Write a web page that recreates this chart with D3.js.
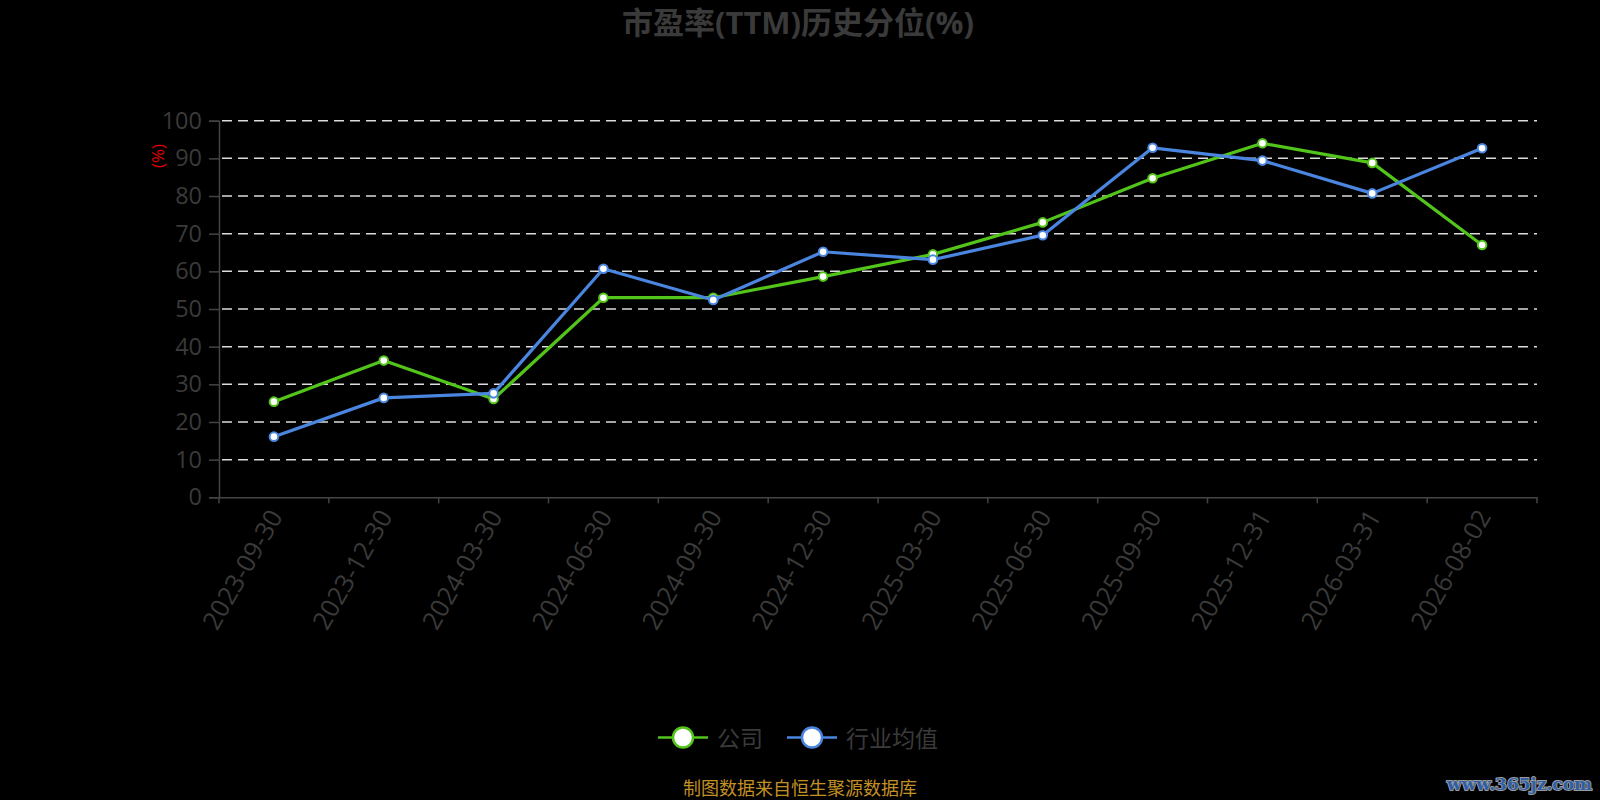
<!DOCTYPE html>
<html><head><meta charset="utf-8">
<script src="https://cdn.jsdelivr.net/npm/d3@7/dist/d3.min.js"></script>
<style>
html,body{margin:0;padding:0;background:#000;}
svg{display:block;font-family:"Open Sans","Noto Sans CJK SC",sans-serif;}
</style></head>
<body>
<svg id="chart" width="1600" height="800"></svg>
<script>
const titleText = "市盈率(TTM)历史分位(%)";
const categories = ["2023-09-30","2023-12-30","2024-03-30","2024-06-30","2024-09-30","2024-12-30","2025-03-30","2025-06-30","2025-09-30","2025-12-31","2026-03-31","2026-08-02"];
const companyValues = [25.4, 36.3, 26.1, 53.0, 53.0, 58.6, 64.5, 73.0, 84.7, 94.0, 88.8, 67.0];
const industryValues = [16.1, 26.4, 27.6, 60.7, 52.4, 65.2, 63.1, 69.6, 92.8, 89.4, 80.7, 92.7];
const yTicks = [0,10,20,30,40,50,60,70,80,90,100];
const seriesNames = ["公司","行业均值"];
const seriesColors = ["#52c41a","#4a86df"];
const footerText = "制图数据来自恒生聚源数据库";
const watermarkText = "www.365jz.com";

(function(){
const svg = d3.select("#chart");
const pLeft = 219, pRight = 1537, pTop = 120.7, pBottom = 497.3;
const x = d3.scaleBand().domain(categories).range([pLeft, pRight]);
const y = d3.scaleLinear().domain([0,100]).range([pBottom, pTop]);
const axisColor = "#444";
const labelColor = "#3a3a3a";

svg.append("text").attr("x", 798).attr("y", 34).attr("text-anchor","middle")
  .attr("font-size", 31).attr("font-weight","bold").attr("fill", labelColor)
  .text(titleText);

svg.append("g").selectAll("line").data(yTicks.filter(d=>d>0)).join("line")
  .attr("x1", pLeft).attr("x2", pRight)
  .attr("y1", d=>y(d)).attr("y2", d=>y(d))
  .attr("stroke", "#dcdcdc").attr("stroke-width", 1.5).attr("stroke-dasharray","10,6")
  .attr("stroke-dashoffset", -3);

const yAxis = d3.axisLeft(y).tickValues(yTicks).tickSize(10).tickPadding(7);
const gy = svg.append("g").attr("transform", `translate(${pLeft},0)`).call(yAxis);
gy.select(".domain").attr("stroke", axisColor).attr("stroke-width", 1.5);
gy.selectAll(".tick line").attr("stroke", axisColor).attr("stroke-width", 1.5);
gy.selectAll(".tick text").attr("fill", labelColor).attr("font-size", 23.5)
  .attr("font-family", "'Open Sans',sans-serif");

svg.append("text").attr("transform", "translate(157,156) rotate(-90)")
  .attr("text-anchor","middle").attr("dominant-baseline","central")
  .attr("fill","#e00000").attr("font-size", 17).text("(%)");

const xAxis = d3.axisBottom(x).tickSize(0).tickFormat("");
const gx = svg.append("g").attr("transform", `translate(0,${pBottom})`).call(xAxis);
gx.select(".domain").attr("stroke", axisColor).attr("stroke-width", 1.5);
const bounds = categories.map(c=>x(c)).concat([pRight]);
svg.append("g").selectAll("line").data(bounds).join("line")
  .attr("x1", d=>d).attr("x2", d=>d).attr("y1", pBottom).attr("y2", pBottom+6)
  .attr("stroke", axisColor).attr("stroke-width", 1.5);
svg.append("g").selectAll("text").data(categories).join("text")
  .attr("transform", d=>`translate(${x(d)+x.bandwidth()/2+1},${pBottom+14}) rotate(-60)`)
  .attr("text-anchor","end").attr("dominant-baseline","central")
  .attr("fill", labelColor).attr("font-size", 25.5)
  .attr("font-family","'Open Sans',sans-serif")
  .text(d=>d);

const allSeries = [companyValues, industryValues];
const line = d3.line().x((d,i)=>x(categories[i])+x.bandwidth()/2).y(d=>y(d));
allSeries.forEach((vals, si)=>{
  const g = svg.append("g");
  g.append("path").datum(vals).attr("d", line).attr("fill","none")
    .attr("stroke", seriesColors[si]).attr("stroke-width", 3.2).attr("stroke-linejoin","round");
  g.selectAll("circle").data(vals).join("circle")
    .attr("cx", (d,i)=>x(categories[i])+x.bandwidth()/2).attr("cy", d=>y(d))
    .attr("r", 4.3).attr("fill","#fff").attr("stroke", seriesColors[si]).attr("stroke-width", 2);
});

const legendItems = [{x:658, name:seriesNames[0], c:seriesColors[0]},{x:787, name:seriesNames[1], c:seriesColors[1]}];
const lg = svg.append("g");
legendItems.forEach(it=>{
  const ly = 737.5;
  lg.append("line").attr("x1", it.x).attr("x2", it.x+50).attr("y1", ly).attr("y2", ly)
    .attr("stroke", it.c).attr("stroke-width", 2.5);
  lg.append("circle").attr("cx", it.x+25).attr("cy", ly).attr("r", 10)
    .attr("fill","#fff").attr("stroke", it.c).attr("stroke-width", 2.5);
  lg.append("text").attr("x", it.x+59).attr("y", ly).attr("dominant-baseline","central")
    .attr("fill", labelColor).attr("font-size", 23).text(it.name);
});

svg.append("text").attr("x", 800).attr("y", 788).attr("text-anchor","middle")
  .attr("dominant-baseline","central").attr("fill","#c39024").attr("font-size", 18)
  .text(footerText);

svg.append("text").attr("x", 1592).attr("y", 790).attr("text-anchor","end")
  .attr("font-family","'DejaVu Serif',serif").attr("font-weight","bold").attr("font-size", 17)
  .attr("fill","#2d5ea8").attr("stroke","#9a9a9a").attr("stroke-width",2).attr("paint-order","stroke")
  .text(watermarkText);
})();
</script>
</body></html>
